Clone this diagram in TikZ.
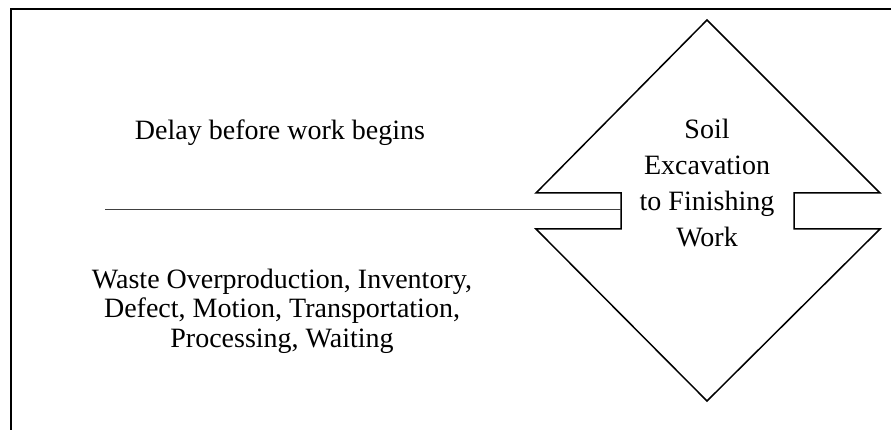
\documentclass[tikz,border=0pt]{standalone}
\usepackage{fontspec}
\setmainfont{Liberation Serif}

\begin{document}
\begin{tikzpicture}[x=1pt,y=-1pt,
	frame/.style={line width=2pt},
	outline/.style={line width=1.5pt, line join=miter},
	feed/.style={line width=0.9pt, black!75},
	txt/.style={font=\fontsize{28}{36}\selectfont, align=center, inner sep=0pt}]
			\useasboundingbox (0,0) rectangle (891,430);
			\draw[frame] (11,432) -- (11,9) -- (893,9);
			% diamond with two side notches
			\draw[outline] (707,20) -- (880,193) -- (794,193) -- (794,229) -- (880,229) -- (707,401)
				-- (536,229) -- (621,229) -- (621,193) -- (536,193) -- cycle;
			\coordinate (start) at (105,209);
			\coordinate (notch) at (621,209);
			\draw[feed] (start) -- (notch);
			\node[txt, anchor=base] (delay) at (280,140) {Delay before work begins};
			\node[txt, anchor=base] (task) at (707,247) {Soil\\Excavation\\to Finishing\\Work};
			\node[txt, font=\fontsize{28}{29.5}\selectfont, anchor=base] (waste) at (282,347)
				{Waste Overproduction, Inventory,\\Defect, Motion, Transportation,\\Processing, Waiting};
		\end{tikzpicture}
\end{document}
